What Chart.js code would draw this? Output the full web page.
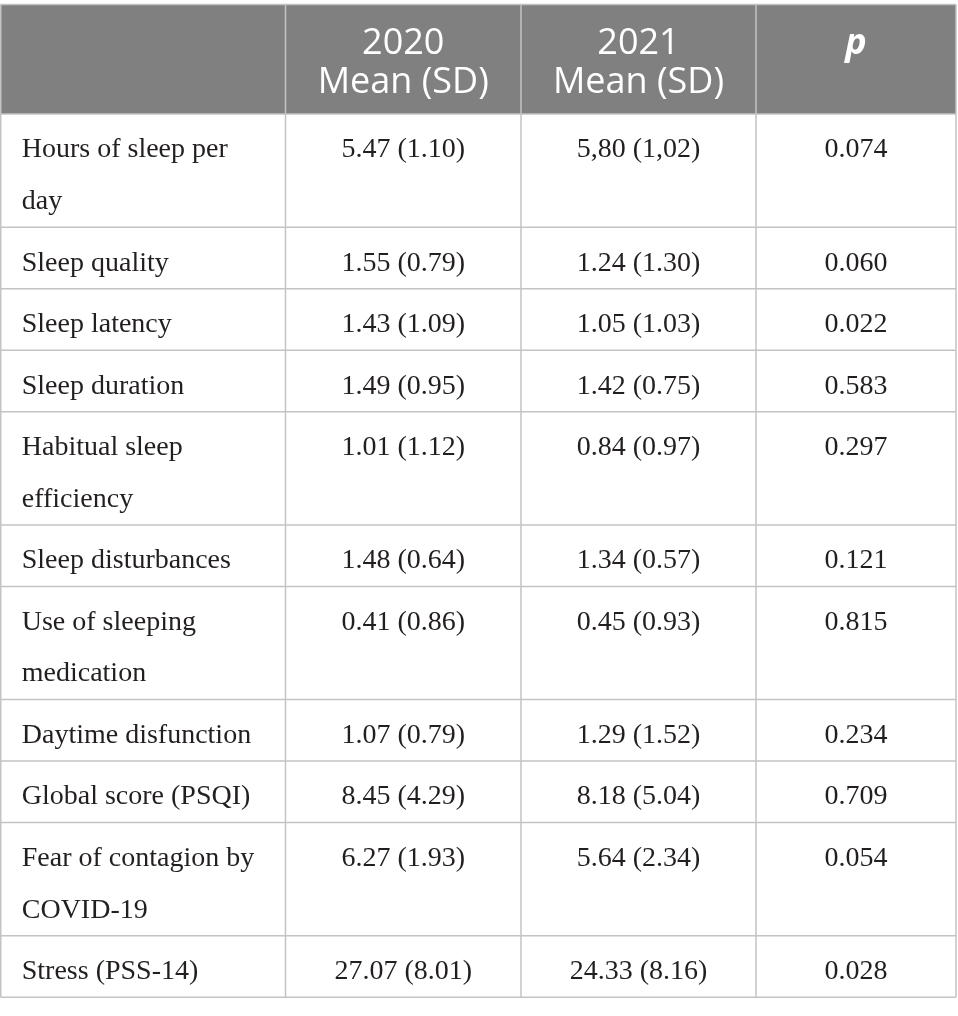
<!DOCTYPE html>
<html>
<head>
<meta charset="utf-8">
<script src="https://cdn.jsdelivr.net/npm/chart.js@4.4.1/dist/chart.umd.min.js"></script>
<style>
  html, body { margin: 0; padding: 0; background: #ffffff; }
  #wrap { width: 958px; height: 1016px; }
</style>
</head>
<body>
<div id="wrap"><canvas id="c" width="958" height="1016"></canvas></div>
<script>
// ---------------- DATA ----------------
const headerLabels = ["", "2020\nMean (SD)", "2021\nMean (SD)", "p"];
const categories = [
  "Hours of sleep per\nday",
  "Sleep quality",
  "Sleep latency",
  "Sleep duration",
  "Habitual sleep\nefficiency",
  "Sleep disturbances",
  "Use of sleeping\nmedication",
  "Daytime disfunction",
  "Global score (PSQI)",
  "Fear of contagion by\nCOVID-19",
  "Stress (PSS-14)"
];
const mean2020 = [5.47, 1.55, 1.43, 1.49, 1.01, 1.48, 0.41, 1.07, 8.45, 6.27, 27.07];
const sd2020   = [1.10, 0.79, 1.09, 0.95, 1.12, 0.64, 0.86, 0.79, 4.29, 1.93, 8.01];
const mean2021 = [5.80, 1.24, 1.05, 1.42, 0.84, 1.34, 0.45, 1.29, 8.18, 5.64, 24.33];
const sd2021   = [1.02, 1.30, 1.03, 0.75, 0.97, 0.57, 0.93, 1.52, 5.04, 2.34, 8.16];
const pValues  = [0.074, 0.060, 0.022, 0.583, 0.297, 0.121, 0.815, 0.234, 0.709, 0.054, 0.028];
// rows of the 2021 column printed with a decimal comma in the source
const commaRows2021 = [0];

// ---------------- LAYOUT / STYLE ----------------
const W = 958, H = 1016;
const COL_EDGES = [0.75, 285.5, 521, 756, 956];
const TABLE_TOP = 4.5;
const HEADER_H = 109.5;
const ROW_PAD = 9.8;
const LINE_H = 51.7;
const BODY_BASE = 43.3;
const HEAD_BASE = 49;
const HEAD_LINE = 39;
const FIRST_COL_PAD = 21;
const HEADER_BG = "#7f807f";
const BORDER = "#c3c3c3";
const BODY_COLOR = "#231f20";
const BODY_FONT = '28px "Liberation Serif", "Times New Roman", serif';
const HEAD_FONT = '36px "Open Sans", "Noto Sans", sans-serif';
const HEAD_FONT_P = 'italic bold 36px "Open Sans", "Noto Sans", sans-serif';

function fmt(v, digits, comma) {
  const s = v.toFixed(digits);
  return comma ? s.replace('.', ',') : s;
}

// row boundaries derived from the number of label lines
const rowTops = [];
const rowBottoms = [];
(function () {
  let yy = TABLE_TOP + HEADER_H;
  categories.forEach(c => {
    const n = c.split('\n').length;
    rowTops.push(yy);
    yy += ROW_PAD + LINE_H * n;
    rowBottoms.push(yy);
  });
})();
const TABLE_BOTTOM = rowBottoms[rowBottoms.length - 1];

function colCenter(c) { return (COL_EDGES[c] + COL_EDGES[c + 1]) / 2; }

// cell anchor points (positioned by the chart scales)
const cells = [];
headerLabels.forEach((t, c) => {
  if (!t) return;
  cells.push({ x: colCenter(c), y: TABLE_TOP + HEAD_BASE, text: t, font: c === 3 ? HEAD_FONT_P : HEAD_FONT,
    color: "#ffffff", align: "center", lineH: HEAD_LINE });
});
categories.forEach((cat, i) => {
  const y = rowTops[i] + BODY_BASE;
  const comma = commaRows2021.includes(i);
  cells.push({ x: COL_EDGES[0] + FIRST_COL_PAD, y, text: cat, font: BODY_FONT, color: BODY_COLOR, align: "left", lineH: LINE_H });
  cells.push({ x: colCenter(1), y, text: fmt(mean2020[i], 2) + " (" + fmt(sd2020[i], 2) + ")", font: BODY_FONT, color: BODY_COLOR, align: "center", lineH: LINE_H });
  cells.push({ x: colCenter(2), y, text: fmt(mean2021[i], 2, comma) + " (" + fmt(sd2021[i], 2, comma) + ")", font: BODY_FONT, color: BODY_COLOR, align: "center", lineH: LINE_H });
  cells.push({ x: colCenter(3), y, text: fmt(pValues[i], 3), font: BODY_FONT, color: BODY_COLOR, align: "center", lineH: LINE_H });
});

const tablePlugin = {
  id: 'tableGrid',
  beforeDatasetsDraw(chart) {
    const { ctx, scales: { x, y } } = chart;
    const yScaleUnit = Math.abs(y.getPixelForValue(1) - y.getPixelForValue(0));
    ctx.save();
    // header background
    const hx0 = x.getPixelForValue(COL_EDGES[0]);
    const hx1 = x.getPixelForValue(COL_EDGES[COL_EDGES.length - 1]);
    const hy0 = y.getPixelForValue(TABLE_TOP);
    const hy1 = y.getPixelForValue(TABLE_TOP + HEADER_H);
    ctx.fillStyle = HEADER_BG;
    ctx.fillRect(hx0, hy0, hx1 - hx0, hy1 - hy0);
    // lines
    ctx.strokeStyle = BORDER;
    ctx.lineWidth = 1.5;
    const hLines = [TABLE_TOP, TABLE_TOP + HEADER_H].concat(rowBottoms);
    hLines.forEach(v => {
      const py = y.getPixelForValue(v);
      ctx.beginPath();
      ctx.moveTo(hx0, py);
      ctx.lineTo(hx1, py);
      ctx.stroke();
    });
    const ty = y.getPixelForValue(TABLE_TOP), by = y.getPixelForValue(TABLE_BOTTOM);
    COL_EDGES.forEach(v => {
      const px = x.getPixelForValue(v);
      ctx.beginPath();
      ctx.moveTo(px, ty);
      ctx.lineTo(px, by);
      ctx.stroke();
    });
    ctx.restore();
  },
  afterDatasetsDraw(chart) {
    const { ctx, scales: { y } } = chart;
    const meta = chart.getDatasetMeta(0);
    const data = chart.data.datasets[0].data;
    const unit = Math.abs(y.getPixelForValue(1) - y.getPixelForValue(0));
    ctx.save();
    ctx.textBaseline = 'alphabetic';
    meta.data.forEach((el, i) => {
      const d = data[i];
      ctx.font = d.font;
      ctx.fillStyle = d.color;
      ctx.textAlign = d.align;
      d.text.split('\n').forEach((line, k) => {
        ctx.fillText(line, el.x, el.y + k * d.lineH * unit);
      });
    });
    ctx.restore();
  }
};

new Chart(document.getElementById('c'), {
  type: 'scatter',
  data: {
    datasets: [{
      data: cells,
      pointRadius: 0,
      pointHoverRadius: 0,
      showLine: false
    }]
  },
  options: {
    responsive: false,
    animation: false,
    devicePixelRatio: 1,
    events: [],
    layout: { padding: 0 },
    scales: {
      x: { type: 'linear', min: 0, max: W, display: false },
      y: { type: 'linear', min: 0, max: H, reverse: true, display: false }
    },
    plugins: {
      legend: { display: false },
      tooltip: { enabled: false },
      title: { display: false }
    }
  },
  plugins: [tablePlugin]
});
</script>
</body>
</html>
